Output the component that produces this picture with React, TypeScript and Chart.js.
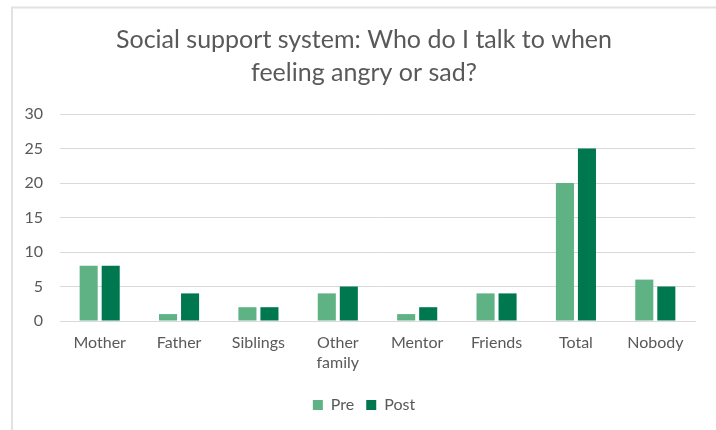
import React, { useEffect, useRef } from "react";
import { Chart, registerables } from "chart.js";

Chart.register(...registerables);

const categories: (string | string[])[] = ["Mother", "Father", "Siblings", ["Other", "family"], "Mentor", "Friends", "Total", "Nobody"];
const preValues = [8, 1, 2, 4, 1, 4, 20, 6];
const postValues = [8, 4, 2, 5, 2, 4, 25, 5];
const titleLines = ["Social support system: Who do I talk to when", "feeling angry or sad?"];
const seriesNames = ["Pre", "Post"];

const TEXT = "#595959";
const FONT = "Lato, 'Open Sans', sans-serif";

const frame = {
  id: "frame",
  beforeDraw(chart: any) {
    const ctx = chart.ctx;
    ctx.save();
    ctx.fillStyle = "#ffffff";
    ctx.fillRect(0, 0, chart.width, chart.height);
    ctx.strokeStyle = "#e2e2e2";
    ctx.lineWidth = 2;
    ctx.beginPath();
    ctx.moveTo(12, chart.height + 2);
    ctx.lineTo(12, 7.5);
    ctx.lineTo(chart.width + 2, 7.5);
    ctx.stroke();
    ctx.restore();
  },
};

export default function App() {
  const ref = useRef<HTMLCanvasElement | null>(null);
  useEffect(() => {
    if (!ref.current) return;
    const chart = new Chart(ref.current, {
      type: "bar",
      data: {
        labels: categories,
        datasets: [
          { label: seriesNames[0], data: preValues, backgroundColor: "#5EB283", categoryPercentage: 0.555, barPercentage: 0.82 },
          { label: seriesNames[1], data: postValues, backgroundColor: "#00784F", categoryPercentage: 0.555, barPercentage: 0.82 },
        ],
      },
      options: {
        animation: false,
        responsive: true,
        maintainAspectRatio: false,
        layout: { padding: { left: 12, right: 0, top: 16, bottom: 7 } },
        plugins: {
          title: {
            display: true,
            text: titleLines,
            color: TEXT,
            font: { family: FONT, size: 25, weight: "normal", lineHeight: 1.3 },
            padding: { top: 8, bottom: 25 },
          },
          legend: {
            position: "bottom",
            labels: {
              color: TEXT,
              font: { family: FONT, size: 16 },
              boxWidth: 10,
              boxHeight: 10,
              padding: 12,
            },
          },
          tooltip: { enabled: false },
        },
        scales: {
          x: {
            grid: { display: false, drawTicks: false },
            border: { display: true, color: "#d9d9d9", width: 1 },
            ticks: { color: TEXT, font: { family: FONT, size: 16, lineHeight: 1.25 }, padding: 12, maxRotation: 0, autoSkip: false },
          },
          y: {
            min: 0,
            max: 30,
            ticks: { stepSize: 5, color: TEXT, font: { family: FONT, size: 16 }, padding: 17 },
            grid: { color: "#d9d9d9", drawTicks: false },
            border: { display: false },
            afterFit: (s: any) => { s.width = 48; },
          },
          yRight: {
            position: "right",
            min: 0,
            max: 30,
            grid: { display: false, drawTicks: false },
            border: { display: false },
            ticks: { display: false },
            afterFit: (s: any) => { s.width = 21; },
          },
        },
      },
      plugins: [frame],
    });
    return () => chart.destroy();
  }, []);
  return (
    <div style={{ position: "fixed", left: 0, top: 0, width: 716, height: 430, background: "#fff" }}>
      <canvas ref={ref} />
    </div>
  );
}
